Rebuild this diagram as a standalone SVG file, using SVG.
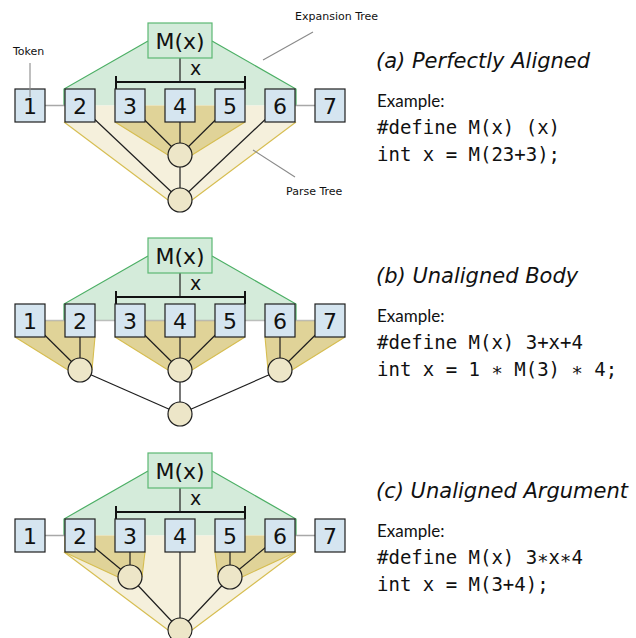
<svg xmlns="http://www.w3.org/2000/svg" width="636" height="638" viewBox="0 0 636 638">
  <style>
    .tok rect { fill: #d5e5f0; stroke: #1e1e1e; stroke-width: 1.2; }
    .tok text, .mac text { font-family: "DejaVu Sans", sans-serif; font-size: 22px; fill: #111; text-anchor: middle; }
    .mac rect { fill: #d3ebda; stroke: #5cb873; stroke-width: 1.2; }
    .exp { fill: #d4ebda; stroke: none; }
    .expedge { fill: none; stroke: #4caf65; stroke-width: 1.2; }
    .pt-outer { fill: #f5f0dc; stroke: none; }
    .pt-inner { fill: #e0d398; stroke: none; }
    .ptedge { fill: none; stroke: #d6bd50; stroke-width: 1.1; }
    .node { fill: #ede6c8; stroke: #1e1e1e; stroke-width: 1.2; }
    .edge { stroke: #1e1e1e; stroke-width: 1.2; fill: none; }
    .tokline { stroke: #a8a8a8; stroke-width: 1.5; fill: none; }
    .bracket { stroke: #111; stroke-width: 2; fill: none; }
    .argx { font-family: "DejaVu Sans", sans-serif; font-size: 19px; fill: #111; }
    .callout { stroke: #8a8a8a; stroke-width: 1.1; fill: none; }
    .note { font-family: "DejaVu Sans", sans-serif; font-size: 11px; fill: #111; }
    .title { font-family: "DejaVu Sans", sans-serif; font-style: italic; font-size: 21px; fill: #111; }
    .ex { font-family: Lato, "Liberation Sans", sans-serif; font-size: 17px; fill: #111; }
    .code { font-family: "DejaVu Sans Mono", monospace; font-size: 19px; fill: #111; }
  </style>
  <defs>
    <!-- expansion region shared by all three panels -->
    <polygon id="expArea" points="148,41 64,89 64,105.5 296,105.5 296,89 212,41"/>
  </defs>

  <!-- ===== panel (a) ===== -->
  <g id="panelA">
    <g id="a-regions">
      <use href="#expArea" class="exp"/>
      <polyline class="expedge" points="148,41 64,89 64,105.5"/>
      <polyline class="expedge" points="212,41 296,89 296,105.5"/>
      <polygon class="pt-outer" points="64,105.5 296,105.5 296,122 192,200 168,200 64,122"/>
      <polyline class="ptedge" points="64,122 168,200"/>
      <polyline class="ptedge" points="296,122 192,200"/>
      <polygon class="pt-inner" points="115,105.5 245,105.5 245,122 192,155 168,155 115,122"/>
      <polyline class="ptedge" points="115,122 168,155"/>
      <polyline class="ptedge" points="245,122 192,155"/>
    </g>
    <g id="a-connectors">
      <line class="tokline" x1="30" y1="105.5" x2="80" y2="105.5"/>
      <line class="tokline" x1="280" y1="105.5" x2="330" y2="105.5"/>
      <line class="edge" x1="80" y1="105.5" x2="180" y2="200"/>
      <line class="edge" x1="130" y1="105.5" x2="180" y2="155"/>
      <line class="edge" x1="180" y1="105.5" x2="180" y2="200"/>
      <line class="edge" x1="230" y1="105.5" x2="180" y2="155"/>
      <line class="edge" x1="280" y1="105.5" x2="180" y2="200"/>
      <line class="edge" x1="180" y1="58" x2="180" y2="82"/>
      <path class="bracket" d="M116,76 V89 M116,82 H245 M245,76 V89"/>
    </g>
    <g id="a-tokens" class="tok">
      <g id="a-t1"><rect x="15" y="89" width="30" height="33"/><text x="30" y="113.5">1</text></g>
      <g id="a-t2"><rect x="65" y="89" width="30" height="33"/><text x="80" y="113.5">2</text></g>
      <g id="a-t3"><rect x="115" y="89" width="30" height="33"/><text x="130" y="113.5">3</text></g>
      <g id="a-t4"><rect x="165" y="89" width="30" height="33"/><text x="180" y="113.5">4</text></g>
      <g id="a-t5"><rect x="215" y="89" width="30" height="33"/><text x="230" y="113.5">5</text></g>
      <g id="a-t6"><rect x="265" y="89" width="30" height="33"/><text x="280" y="113.5">6</text></g>
      <g id="a-t7"><rect x="315" y="89" width="30" height="33"/><text x="330" y="113.5">7</text></g>
    </g>
    <g id="a-nodes">
      <circle class="node" cx="180" cy="155" r="12"/>
      <circle class="node" cx="180" cy="200" r="12"/>
    </g>
    <g id="a-macro" class="mac"><rect x="148" y="23" width="64" height="35"/><text x="180" y="49">M(x)</text></g>
    <text class="argx" x="190" y="75">x</text>
    <g id="a-callouts">
      <text class="note" x="13" y="55">Token</text>
      <line class="callout" x1="30" y1="63" x2="30" y2="97"/>
      <text class="note" x="295" y="20">Expansion Tree</text>
      <line class="callout" x1="313" y1="32" x2="263" y2="60"/>
      <text class="note" x="286" y="195">Parse Tree</text>
      <line class="callout" x1="295" y1="177" x2="253" y2="150"/>
    </g>
    <g id="a-caption">
      <text class="title" x="376" y="68">(a) Perfectly Aligned</text>
      <text class="ex" x="377" y="107">Example:</text>
      <text class="code" x="377" y="134">#define M(x) (x)</text>
      <text class="code" x="377" y="161">int x = M(23+3);</text>
    </g>
  </g>

  <!-- ===== panel (b) ===== -->
  <g id="panelB" transform="translate(0,215)">
    <g id="b-regions">
      <use href="#expArea" class="exp"/>
      <polyline class="expedge" points="148,41 64,89 64,105.5"/>
      <polyline class="expedge" points="212,41 296,89 296,105.5"/>
      <polygon class="pt-inner" points="15,105.5 95,105.5 95,122 92,155 68,155 15,122"/>
      <polyline class="ptedge" points="15,122 68,155"/>
      <polyline class="ptedge" points="95,122 92,155"/>
      <polygon class="pt-inner" points="115,105.5 245,105.5 245,122 192,155 168,155 115,122"/>
      <polyline class="ptedge" points="115,122 168,155"/>
      <polyline class="ptedge" points="245,122 192,155"/>
      <polygon class="pt-inner" points="265,105.5 345,105.5 345,122 292,155 268,155 265,122"/>
      <polyline class="ptedge" points="265,122 268,155"/>
      <polyline class="ptedge" points="345,122 292,155"/>
    </g>
    <g id="b-connectors">
      <line class="tokline" x1="30" y1="105.5" x2="330" y2="105.5" stroke-opacity="0.7"/>
      <line class="edge" x1="30" y1="105.5" x2="80" y2="155"/>
      <line class="edge" x1="80" y1="105.5" x2="80" y2="155"/>
      <line class="edge" x1="130" y1="105.5" x2="180" y2="155"/>
      <line class="edge" x1="180" y1="105.5" x2="180" y2="199"/>
      <line class="edge" x1="230" y1="105.5" x2="180" y2="155"/>
      <line class="edge" x1="280" y1="105.5" x2="280" y2="155"/>
      <line class="edge" x1="330" y1="105.5" x2="280" y2="155"/>
      <line class="edge" x1="80" y1="155" x2="180" y2="199"/>
      <line class="edge" x1="280" y1="155" x2="180" y2="199"/>
      <line class="edge" x1="180" y1="58" x2="180" y2="82"/>
      <path class="bracket" d="M116,76 V89 M116,82 H245 M245,76 V89"/>
    </g>
    <g id="b-tokens" class="tok">
      <g id="b-t1"><rect x="15" y="89" width="30" height="33"/><text x="30" y="113.5">1</text></g>
      <g id="b-t2"><rect x="65" y="89" width="30" height="33"/><text x="80" y="113.5">2</text></g>
      <g id="b-t3"><rect x="115" y="89" width="30" height="33"/><text x="130" y="113.5">3</text></g>
      <g id="b-t4"><rect x="165" y="89" width="30" height="33"/><text x="180" y="113.5">4</text></g>
      <g id="b-t5"><rect x="215" y="89" width="30" height="33"/><text x="230" y="113.5">5</text></g>
      <g id="b-t6"><rect x="265" y="89" width="30" height="33"/><text x="280" y="113.5">6</text></g>
      <g id="b-t7"><rect x="315" y="89" width="30" height="33"/><text x="330" y="113.5">7</text></g>
    </g>
    <g id="b-nodes">
      <circle class="node" cx="80" cy="155" r="12"/>
      <circle class="node" cx="180" cy="155" r="12"/>
      <circle class="node" cx="280" cy="155" r="12"/>
      <circle class="node" cx="180" cy="199" r="12"/>
    </g>
    <g id="b-macro" class="mac"><rect x="148" y="23" width="64" height="35"/><text x="180" y="49">M(x)</text></g>
    <text class="argx" x="190" y="75">x</text>
    <g id="b-caption">
      <text class="title" x="376" y="68">(b) Unaligned Body</text>
      <text class="ex" x="377" y="107">Example:</text>
      <text class="code" x="377" y="134">#define M(x) 3+x+4</text>
      <text class="code" x="377" y="161">int x = 1 ∗ M(3) ∗ 4;</text>
    </g>
  </g>

  <!-- ===== panel (c) ===== -->
  <g id="panelC" transform="translate(0,430)">
    <g id="c-regions">
      <use href="#expArea" class="exp"/>
      <polyline class="expedge" points="148,41 64,89 64,105.5"/>
      <polyline class="expedge" points="212,41 296,89 296,105.5"/>
      <polygon class="pt-outer" points="64,105.5 296,105.5 296,122 192,200 168,200 64,122"/>
      <polyline class="ptedge" points="64,122 168,200"/>
      <polyline class="ptedge" points="296,122 192,200"/>
      <polygon class="pt-inner" points="64,105.5 145,105.5 145,122 142,147 118,147 64,122"/>
      <polyline class="ptedge" points="64,122 118,147"/>
      <polyline class="ptedge" points="145,122 142,147"/>
      <polygon class="pt-inner" points="215,105.5 296,105.5 296,122 242,147 218,147 215,122"/>
      <polyline class="ptedge" points="215,122 218,147"/>
      <polyline class="ptedge" points="296,122 242,147"/>
    </g>
    <g id="c-connectors">
      <line class="tokline" x1="30" y1="105.5" x2="80" y2="105.5"/>
      <line class="tokline" x1="280" y1="105.5" x2="330" y2="105.5"/>
      <line class="edge" x1="80" y1="105.5" x2="130" y2="147"/>
      <line class="edge" x1="130" y1="105.5" x2="130" y2="147"/>
      <line class="edge" x1="180" y1="105.5" x2="180" y2="200"/>
      <line class="edge" x1="230" y1="105.5" x2="230" y2="147"/>
      <line class="edge" x1="280" y1="105.5" x2="230" y2="147"/>
      <line class="edge" x1="130" y1="147" x2="180" y2="200"/>
      <line class="edge" x1="230" y1="147" x2="180" y2="200"/>
      <line class="edge" x1="180" y1="58" x2="180" y2="82"/>
      <path class="bracket" d="M116,76 V89 M116,82 H245 M245,76 V89"/>
    </g>
    <g id="c-tokens" class="tok">
      <g id="c-t1"><rect x="15" y="89" width="30" height="33"/><text x="30" y="113.5">1</text></g>
      <g id="c-t2"><rect x="65" y="89" width="30" height="33"/><text x="80" y="113.5">2</text></g>
      <g id="c-t3"><rect x="115" y="89" width="30" height="33"/><text x="130" y="113.5">3</text></g>
      <g id="c-t4"><rect x="165" y="89" width="30" height="33"/><text x="180" y="113.5">4</text></g>
      <g id="c-t5"><rect x="215" y="89" width="30" height="33"/><text x="230" y="113.5">5</text></g>
      <g id="c-t6"><rect x="265" y="89" width="30" height="33"/><text x="280" y="113.5">6</text></g>
      <g id="c-t7"><rect x="315" y="89" width="30" height="33"/><text x="330" y="113.5">7</text></g>
    </g>
    <g id="c-nodes">
      <circle class="node" cx="130" cy="147" r="12"/>
      <circle class="node" cx="230" cy="147" r="12"/>
      <circle class="node" cx="180" cy="200" r="12"/>
    </g>
    <g id="c-macro" class="mac"><rect x="148" y="23" width="64" height="35"/><text x="180" y="49">M(x)</text></g>
    <text class="argx" x="190" y="75">x</text>
    <g id="c-caption">
      <text class="title" x="376" y="68">(c) Unaligned Argument</text>
      <text class="ex" x="377" y="107">Example:</text>
      <text class="code" x="377" y="134">#define M(x) 3∗x∗4</text>
      <text class="code" x="377" y="161">int x = M(3+4);</text>
    </g>
  </g>
</svg>
